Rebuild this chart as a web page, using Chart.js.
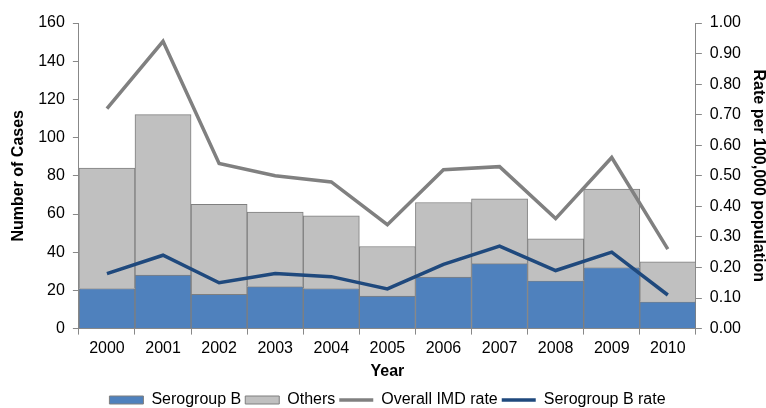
<!DOCTYPE html>
<html>
<head>
<meta charset="utf-8">
<script src="https://cdn.jsdelivr.net/npm/chart.js"></script>
<style>
  html, body { margin: 0; padding: 0; background: #fff; }
  #wrap { width: 766px; height: 408px; }
</style>
</head>
<body>
<div id="wrap"><canvas id="imdChart"></canvas></div>
<script>
const years = ["2000", "2001", "2002", "2003", "2004", "2005", "2006", "2007", "2008", "2009", "2010"];
const serogroupB = [21, 28, 18, 22, 21, 17, 27, 34, 25, 32, 14];
const others = [63, 84, 47, 39, 38, 26, 39, 34, 22, 41, 21];
const overallRate = [0.72, 0.94, 0.54, 0.50, 0.48, 0.34, 0.52, 0.53, 0.36, 0.56, 0.26];
const serogroupBRate = [0.18, 0.24, 0.15, 0.18, 0.17, 0.13, 0.21, 0.27, 0.19, 0.25, 0.11];

const font = "'Liberation Sans', Arial, Helvetica, sans-serif";
Chart.defaults.font.family = font;
Chart.defaults.font.size = 16;
Chart.defaults.color = "#000";

new Chart(document.getElementById("imdChart"), {
  type: "bar",
  data: {
    labels: years,
    datasets: [
      {
        label: "Serogroup B",
        data: serogroupB,
        backgroundColor: "#4f81bd",
        borderColor: "#7f7f7f",
        borderWidth: 1,
        barPercentage: 1,
        categoryPercentage: 1,
        yAxisID: "y",
        order: 2,
        pointStyle: "rect"
      },
      {
        label: "Others",
        data: others,
        backgroundColor: "#c0c0c0",
        borderColor: "#7f7f7f",
        borderWidth: 1,
        barPercentage: 1,
        categoryPercentage: 1,
        yAxisID: "y",
        order: 2,
        pointStyle: "rect"
      },
      {
        type: "line",
        label: "Overall IMD rate",
        data: overallRate,
        borderColor: "#808080",
        backgroundColor: "#808080",
        borderWidth: 3.5,
        pointRadius: 0,
        tension: 0,
        yAxisID: "y1",
        order: 1,
        pointStyle: "line"
      },
      {
        type: "line",
        label: "Serogroup B rate",
        data: serogroupBRate,
        borderColor: "#1f497d",
        backgroundColor: "#1f497d",
        borderWidth: 3.5,
        pointRadius: 0,
        tension: 0,
        yAxisID: "y1",
        order: 0,
        pointStyle: "line"
      }
    ]
  },
  options: {
    responsive: true,
    maintainAspectRatio: false,
    animation: false,
    layout: { padding: { left: 9, right: 0, top: 23, bottom: -10 } },
    plugins: {
      tooltip: { enabled: false },
      legend: {
        position: "bottom",
        labels: {
          usePointStyle: true,
          pointStyleWidth: 34,
          boxHeight: 8,
          padding: 4,
          color: "#000",
          sort: (a, b) => a.datasetIndex - b.datasetIndex
        }
      }
    },
    scales: {
      x: {
        stacked: true,
        border: { color: "#888", width: 1 },
        grid: { display: true, drawOnChartArea: false, drawTicks: true, tickLength: 6, color: "#888", offset: true },
        ticks: { color: "#000", padding: 4, maxRotation: 0 },
        title: { display: true, text: "Year", font: { weight: "bold", size: 16 }, padding: { top: 0, bottom: 7 } }
      },
      y: {
        stacked: true,
        position: "left",
        min: 0,
        max: 160,
        border: { color: "#888", width: 1 },
        grid: { drawOnChartArea: false, drawTicks: true, tickLength: 6, color: "#888" },
        ticks: { stepSize: 20, color: "#000", padding: 8 },
        title: { display: true, text: "Number of Cases", font: { weight: "bold", size: 16 }, padding: { top: 0, bottom: 2 } }
      },
      y1: {
        position: "right",
        min: 0,
        max: 1,
        border: { color: "#888", width: 1 },
        grid: { drawOnChartArea: false, drawTicks: true, tickLength: 6, color: "#888" },
        ticks: { stepSize: 0.1, color: "#000", padding: 8, callback: v => v.toFixed(2) },
        title: { display: true, text: "Rate per 100,000 population", font: { weight: "bold", size: 16, lineHeight: 1 }, padding: { top: 0, bottom: 1 } }
      }
    }
  }
});
</script>
</body>
</html>
